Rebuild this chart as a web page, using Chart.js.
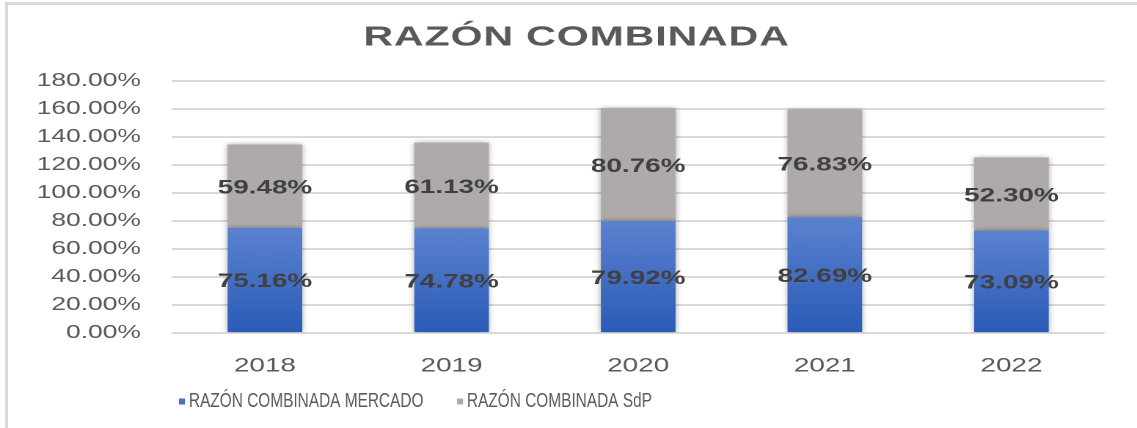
<!DOCTYPE html>
<html>
<head>
<meta charset="utf-8">
<script src="https://cdn.jsdelivr.net/npm/chart.js@4.4.1/dist/chart.umd.min.js"></script>
<style>
  html, body { margin: 0; padding: 0; background: #fff; overflow: hidden; }
  #frame { position: absolute; left: 5px; top: 2px; width: 1140px; height: 430px;
           border-left: 3px solid #d9d9d9; border-top: 3px solid #d9d9d9; }
  /* the original picture is stretched horizontally, so the canvas is too */
  #wrap { position: absolute; left: 0; top: 0; width: 775px; height: 428px;
          transform: scaleX(1.4671); transform-origin: 0 0; }
</style>
</head>
<body>
<div id="frame"></div>
<div id="wrap"><canvas id="c" width="775" height="428"></canvas></div>
<script>
const years = ['2018', '2019', '2020', '2021', '2022'];
const mercado = [75.16, 74.78, 79.92, 82.69, 73.09];   // RAZÓN COMBINADA MERCADO
const sdp = [59.48, 61.13, 80.76, 76.83, 52.30];       // RAZÓN COMBINADA SdP
const seriesNames = ['RAZÓN COMBINADA MERCADO', 'RAZÓN COMBINADA SdP'];
const chartTitle = 'RAZÓN COMBINADA';
const yMax = 180;
const yStep = 20;

const textColor = '#595959';
const font = '"Liberation Sans", Arial, sans-serif';
const grayColor = '#aeaaaa';
const blueSwatch = '#4472c4';

// degradado azul por barra
function blueGradient(ctx) {
    const chart = ctx.chart;
    if (!chart.chartArea || ctx.type !== 'data') return blueSwatch;
    const y = chart.scales.y;
    const top = y.getPixelForValue(ctx.parsed.y);
    const bottom = y.getPixelForValue(0);
    const g = chart.ctx.createLinearGradient(0, top, 0, bottom);
    g.addColorStop(0, '#5b82cf');
    g.addColorStop(1, '#2a5bb7');
    return g;
}

const extras = {
    id: 'extras',
    beforeDatasetsDraw(chart) {
        const c = chart.ctx;
        c.save();
        c.shadowColor = 'rgba(0,0,0,0.38)';
        c.shadowBlur = 9;
    },
    afterDatasetsDraw(chart) {
        const c = chart.ctx;
        c.restore();
        // etiquetas de datos
        c.save();
        c.font = 'bold 19px ' + font;
        c.fillStyle = '#404040';
        c.textAlign = 'center';
        c.textBaseline = 'middle';
        chart.data.datasets.forEach((ds, i) => {
            chart.getDatasetMeta(i).data.forEach((bar, j) => {
                c.fillText(ds.data[j].toFixed(2) + '%', bar.x, (bar.y + bar.base) / 2 + 2);
            });
        });
        c.restore();
    },
    afterDraw(chart) {
        const c = chart.ctx;
        c.save();
        // título
        c.font = 'bold 28px ' + font;
        c.fillStyle = textColor;
        c.textAlign = 'center';
        c.textBaseline = 'middle';
        c.letterSpacing = '0.6px';
        c.fillText(chartTitle, 393, 38);
        c.letterSpacing = '0px';
        // leyenda
        const items = [
            { box: 122, text: 128.8, color: blueSwatch },
            { box: 311.5, text: 318.3, color: grayColor }
        ];
        c.font = '20px ' + font;
        c.textAlign = 'left';
        items.forEach((it, i) => {
            c.fillStyle = it.color;
            c.fillRect(it.box, 398.5, 4.1, 6);
            c.save();
            c.translate(it.text, 401.5);
            c.scale(0.525, 1);
            c.fillStyle = textColor;
            c.fillText(seriesNames[i], 0, 0);
            c.restore();
        });
        c.restore();
    }
};

new Chart(document.getElementById('c'), {
    type: 'bar',
    data: {
        labels: years,
        datasets: [
            { label: seriesNames[0], data: mercado, backgroundColor: blueGradient },
            { label: seriesNames[1], data: sdp, backgroundColor: grayColor }
        ]
    },
    options: {
        responsive: false,
        devicePixelRatio: 2,
        animation: false,
        layout: { padding: { top: 81, bottom: 55, left: 0, right: 22 } },
        datasets: { bar: { categoryPercentage: 1, barPercentage: 0.4 } },
        plugins: {
            legend: { display: false },
            title: { display: false },
            tooltip: { enabled: false }
        },
        scales: {
            x: {
                stacked: true,
                grid: { display: false },
                border: { display: false },
                ticks: { color: textColor, font: { family: font, size: 19 }, padding: 14 },
                afterFit: s => { s.height = 40; }
            },
            y: {
                stacked: true,
                min: 0,
                max: yMax,
                grid: { color: '#dadada', lineWidth: 2, drawTicks: false },
                border: { display: false },
                ticks: {
                    stepSize: yStep,
                    color: textColor,
                    font: { family: font, size: 18 },
                    padding: 21,
                    callback: v => v.toFixed(2) + '%'
                },
                afterFit: s => { s.width = 117; }
            }
        }
    },
    plugins: [extras]
});
</script>
</body>
</html>
